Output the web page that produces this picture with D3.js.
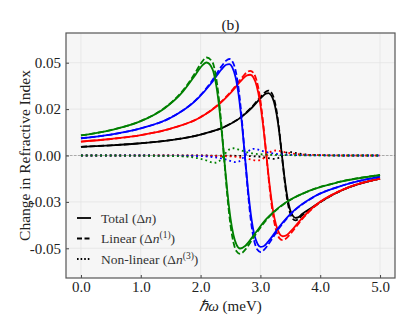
<!DOCTYPE html>
<html>
<head>
<meta charset="utf-8">
<script src="https://cdnjs.cloudflare.com/ajax/libs/d3/7.8.5/d3.min.js"></script>
<style>
  body { margin: 0; background: #fff; }
</style>
</head>
<body>
<div id="chart"></div>
<script>
// Photon energy (meV) and refractive index change.
// One set of arrays per colour: total (solid), linear (dashed), non-linear (dotted)
let greenE = [0, 0.5, 1.0, 1.4, 1.7, 1.9, 2.0, 2.1, 2.2, 2.25, 2.3, 2.35, 2.4, 2.45, 2.5, 2.55, 2.6, 2.66, 2.75, 2.9, 3.1, 3.4, 3.8, 4.3, 5.0];
let greenLinear = [0.0108, 0.0137, 0.0186, 0.0257, 0.0348, 0.0440, 0.0493, 0.0528, 0.0502, 0.0438, 0.0323, 0.0156, -0.0040, -0.0228, -0.0375, -0.0469, -0.0516, -0.0530, -0.0506, -0.0434, -0.0347, -0.0260, -0.0193, -0.0144, -0.0105];
let greenNonlin = [0, 0, -0.0001, -0.0002, -0.0005, -0.0011, -0.0018, -0.0027, -0.0038, -0.0039, -0.0033, -0.0017, 0.0005, 0.0025, 0.0036, 0.0039, 0.0036, 0.0029, 0.0020, 0.0010, 0.0005, 0.0002, 0.0001, 0, 0];
let greenTotal = [0.0108, 0.0137, 0.0185, 0.0255, 0.0343, 0.0429, 0.0475, 0.0501, 0.0464, 0.0399, 0.0290, 0.0139, -0.0035, -0.0203, -0.0339, -0.0430, -0.0480, -0.0501, -0.0486, -0.0424, -0.0342, -0.0258, -0.0192, -0.0144, -0.0105];

let blueE = [0, 0.5, 1.0, 1.5, 1.96, 2.168, 2.35, 2.428, 2.48, 2.532, 2.584, 2.636, 2.688, 2.74, 2.792, 2.844, 2.896, 2.948, 3.0, 3.052, 3.13, 3.312, 3.52, 3.9, 4.4, 5.0];
let blueLinear = [0.0093, 0.0113, 0.0146, 0.0204, 0.0312, 0.0392, 0.0480, 0.0511, 0.0520, 0.0507, 0.0459, 0.0359, 0.0200, 0, -0.0200, -0.0359, -0.0459, -0.0507, -0.0520, -0.0511, -0.0480, -0.0392, -0.0312, -0.0222, -0.0159, -0.0114];
let blueNonlin = [0, 0, 0, -0.0001, -0.0003, -0.0007, -0.0016, -0.0022, -0.0028, -0.0033, -0.0036, -0.0033, -0.0020, 0, 0.0020, 0.0033, 0.0036, 0.0033, 0.0028, 0.0022, 0.0016, 0.0007, 0.0003, 0.0001, 0, 0];
let blueTotal = [0.0093, 0.0113, 0.0146, 0.0203, 0.0309, 0.0385, 0.0464, 0.0489, 0.0492, 0.0474, 0.0423, 0.0326, 0.0180, 0, -0.0180, -0.0326, -0.0423, -0.0474, -0.0492, -0.0489, -0.0464, -0.0385, -0.0309, -0.0221, -0.0159, -0.0114];

let redE = [0, 0.5, 1.0, 1.5, 2.0, 2.29, 2.506, 2.695, 2.776, 2.83, 2.884, 2.938, 2.992, 3.046, 3.10, 3.154, 3.208, 3.262, 3.316, 3.37, 3.424, 3.505, 3.694, 3.91, 4.4, 5.0];
let redLinear = [0.0075, 0.0089, 0.0110, 0.0145, 0.0207, 0.0274, 0.0344, 0.0421, 0.0449, 0.0456, 0.0445, 0.0402, 0.0315, 0.0175, 0, -0.0175, -0.0315, -0.0402, -0.0445, -0.0456, -0.0449, -0.0421, -0.0344, -0.0274, -0.0181, -0.0125];
let redNonlin = [0, 0, 0, 0, -0.0001, -0.0003, -0.0005, -0.0012, -0.0017, -0.0021, -0.0025, -0.0027, -0.0025, -0.0016, 0, 0.0016, 0.0025, 0.0027, 0.0025, 0.0021, 0.0017, 0.0012, 0.0005, 0.0003, 0, 0];
let redTotal = [0.0075, 0.0089, 0.0110, 0.0145, 0.0206, 0.0271, 0.0339, 0.0409, 0.0432, 0.0435, 0.0420, 0.0375, 0.0290, 0.0159, 0, -0.0159, -0.0290, -0.0375, -0.0420, -0.0435, -0.0432, -0.0409, -0.0339, -0.0271, -0.0181, -0.0125];

let blackE = [0, 0.5, 1.0, 1.5, 2.0, 2.4, 2.685, 2.865, 3.0225, 3.09, 3.135, 3.18, 3.225, 3.27, 3.315, 3.36, 3.405, 3.45, 3.495, 3.54, 3.585, 3.63, 3.6975, 3.855, 4.0, 4.4, 5.0];
let blackLinear = [0.0047, 0.0055, 0.0066, 0.0083, 0.0113, 0.0155, 0.0210, 0.0264, 0.0323, 0.0344, 0.0350, 0.0341, 0.0309, 0.0241, 0.0135, 0, -0.0135, -0.0241, -0.0309, -0.0341, -0.0350, -0.0344, -0.0323, -0.0285, -0.0252, -0.0182, -0.0125];
let blackNonlin = [0, 0, 0, 0, 0, -0.0001, -0.0002, -0.0004, -0.0008, -0.0011, -0.0014, -0.0017, -0.0018, -0.0017, -0.0010, 0, 0.0010, 0.0017, 0.0018, 0.0017, 0.0014, 0.0011, 0.0008, 0.0003, 0.0002, 0, 0];
let blackTotal = [0.0047, 0.0055, 0.0066, 0.0083, 0.0113, 0.0154, 0.0208, 0.0260, 0.0315, 0.0333, 0.0336, 0.0324, 0.0291, 0.0224, 0.0125, 0, -0.0125, -0.0224, -0.0291, -0.0324, -0.0336, -0.0333, -0.0315, -0.0282, -0.0250, -0.0182, -0.0125];

// Axis ticks and their printed labels
let xTicks = [0, 1, 2, 3, 4, 5];
let xTickLabels = ["0.0", "1.0", "2.0", "3.0", "4.0", "5.0"];
let yTicks = [0.05, 0.025, 0, -0.025, -0.05];
let yTickLabels = ["0.05", "0.02", "0.00", "-0.03", "-0.05"];

let series = [
  { E: blackE, total: blackTotal, linear: blackLinear, nonlin: blackNonlin, color: "black" },
  { E: redE, total: redTotal, linear: redLinear, nonlin: redNonlin, color: "red" },
  { E: blueE, total: blueTotal, linear: blueLinear, nonlin: blueNonlin, color: "blue" },
  { E: greenE, total: greenTotal, linear: greenLinear, nonlin: greenNonlin, color: "green" }
];

let SERIF = "'Liberation Serif', 'Times New Roman', serif";

let width = 412;
let height = 330;
let margin = { top: 33, right: 17, bottom: 52, left: 66 };
let plotW = width - margin.left - margin.right;
let plotH = height - margin.top - margin.bottom;

let svg = d3.select("#chart")
  .append("svg")
  .attr("width", width)
  .attr("height", height);

let g = svg.append("g")
  .attr("transform", "translate(" + margin.left + "," + margin.top + ")");

let x = d3.scaleLinear().domain([-0.25, 5.25]).range([0, plotW]);
let y = d3.scaleLinear().domain([-0.066, 0.066]).range([plotH, 0]);

// plot background
g.append("rect")
  .attr("width", plotW)
  .attr("height", plotH)
  .attr("fill", "#f6f6f6");

// grid lines
g.append("g").selectAll("line")
  .data(xTicks)
  .enter().append("line")
  .attr("x1", d => x(d)).attr("x2", d => x(d))
  .attr("y1", 0).attr("y2", plotH)
  .attr("stroke", "#e4e4e4")
  .attr("stroke-width", 0.8);

g.append("g").selectAll("line")
  .data(yTicks)
  .enter().append("line")
  .attr("x1", 0).attr("x2", plotW)
  .attr("y1", d => y(d)).attr("y2", d => y(d))
  .attr("stroke", "#e4e4e4")
  .attr("stroke-width", 0.8);

// zero reference line
g.append("line")
  .attr("x1", 0).attr("x2", plotW)
  .attr("y1", y(0)).attr("y2", y(0))
  .attr("stroke", "#999")
  .attr("stroke-width", 0.8)
  .attr("stroke-dasharray", "2.5,1.5");

let line = (xs, ys) => d3.line()
  .x((d, i) => x(xs[i]))
  .y(d => y(d))
  .curve(d3.curveMonotoneX)(ys);

series.forEach(s => {
  g.append("path")
    .attr("d", line(s.E, s.total))
    .attr("fill", "none")
    .attr("stroke", s.color)
    .attr("stroke-width", 1.8);

  g.append("path")
    .attr("d", line(s.E, s.linear))
    .attr("fill", "none")
    .attr("stroke", s.color)
    .attr("stroke-width", 1.8)
    .attr("stroke-dasharray", "6,2.6");

  g.append("path")
    .attr("d", line(s.E, s.nonlin))
    .attr("fill", "none")
    .attr("stroke", s.color)
    .attr("stroke-width", 1.8)
    .attr("stroke-dasharray", "1.8,3");
});

// axes with short inward ticks
let xAxis = g.append("g")
  .attr("transform", "translate(0," + plotH + ")")
  .call(d3.axisBottom(x).tickValues(xTicks).tickFormat((d, i) => xTickLabels[i]).tickSize(-3).tickPadding(3));

let yAxis = g.append("g")
  .call(d3.axisLeft(y).tickValues(yTicks).tickFormat((d, i) => yTickLabels[i]).tickSize(-3).tickPadding(5));

[xAxis, yAxis].forEach(a => {
  a.attr("font-family", null).attr("font-size", null);
  a.select(".domain").remove();
  a.selectAll(".tick line").attr("stroke", "#444");
  a.selectAll(".tick text")
    .attr("fill", "#222")
    .style("font-family", SERIF)
    .style("font-size", "15px");
});

// frame
g.append("rect")
  .attr("width", plotW)
  .attr("height", plotH)
  .attr("fill", "none")
  .attr("stroke", "#555")
  .attr("stroke-width", 1.2);

// title and axis labels
svg.append("text")
  .attr("x", margin.left + plotW / 2)
  .attr("y", 30)
  .attr("text-anchor", "middle")
  .style("font-family", SERIF)
  .style("font-size", "15.5px")
  .attr("fill", "#222")
  .text("(b)");

svg.append("text")
  .attr("transform", "translate(30," + (margin.top + plotH / 2) + ") rotate(-90)")
  .attr("text-anchor", "middle")
  .style("font-family", SERIF)
  .style("font-size", "15.5px")
  .attr("fill", "#222")
  .text("Change in Refractive Index");

let xl = svg.append("text")
  .attr("x", margin.left + plotW / 2)
  .attr("y", 311)
  .attr("text-anchor", "middle")
  .style("font-family", SERIF)
  .style("font-size", "15px")
  .attr("fill", "#222");
xl.append("tspan").style("font-style", "italic").text("ℏω");
xl.append("tspan").text(" (meV)");

// legend
let legendItems = [
  { name: "Total (", sup: null, dash: null },
  { name: "Linear (", sup: "(1)", dash: "5,2.5" },
  { name: "Non-linear (", sup: "(3)", dash: "1.6,2" }
];

let legend = svg.append("g").attr("transform", "translate(77,218)");

legendItems.forEach((d, i) => {
  let row = legend.append("g").attr("transform", "translate(0," + i * 20.5 + ")");
  row.append("line")
    .attr("x1", 0).attr("x2", 14)
    .attr("stroke", "black")
    .attr("stroke-width", 1.8)
    .attr("stroke-dasharray", d.dash);
  let t = row.append("text")
    .attr("x", 24)
    .attr("y", 4.5)
    .style("font-family", SERIF)
    .style("font-size", "13.5px")
    .attr("fill", "#333");
  t.append("tspan").text(d.name + "Δ");
  t.append("tspan").style("font-style", "italic").text("n");
  if (d.sup) {
    t.append("tspan").style("font-size", "9.5px").attr("dy", -5).text(d.sup);
    t.append("tspan").attr("dy", 5).text(")");
  } else {
    t.append("tspan").text(")");
  }
});
</script>
</body>
</html>
